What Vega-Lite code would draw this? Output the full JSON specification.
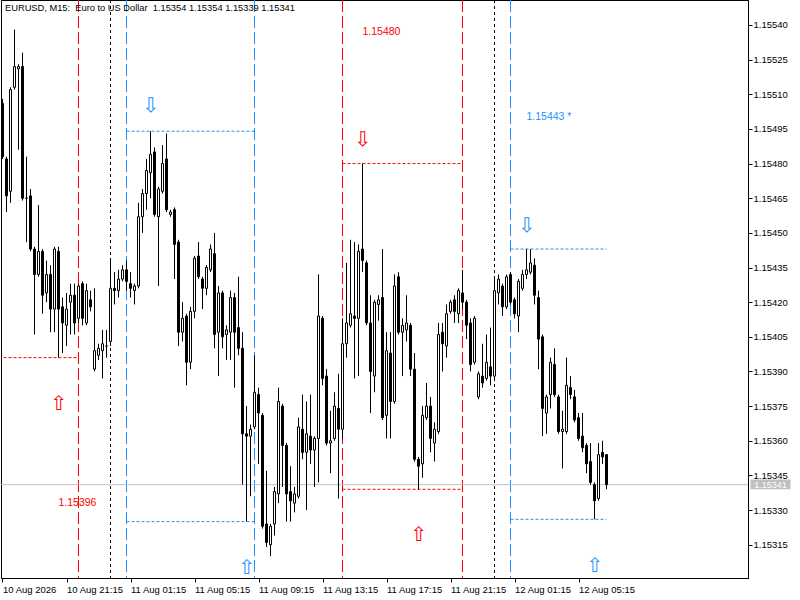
{
  "$schema": "https://vega.github.io/schema/vega-lite/v6.json",
  "width": 747,
  "height": 578,
  "autosize": {"type": "none"},
  "padding": {"left": 1, "top": 0, "right": 52, "bottom": 22},
  "background": "#ffffff",
  "resolve": {"axis": {"x": "independent", "y": "independent"}},
  "config": {
    "view": {"stroke": "#000000", "strokeWidth": 1},
    "font": "Liberation Sans",
    "scale": {"continuousPadding": 0},
    "axis": {"labelFont": "Liberation Sans", "labelColor": "#000000", "tickColor": "#000000", "domainColor": "#000000", "grid": false}
  },
  "layer": [
    {
      "data": {"values": [
        {"t": "2026-08-10T22:00Z", "zone": "A"},
        {"t": "2026-08-11T14:30Z", "zone": "A"},
        {"t": "2026-08-11T22:00Z", "zone": "A"},
        {"t": "2026-08-11T01:00Z", "zone": "B"},
        {"t": "2026-08-11T09:00Z", "zone": "B"},
        {"t": "2026-08-12T01:00Z", "zone": "B"}
      ]},
      "mark": {"type": "rule", "strokeDash": [12, 4], "strokeWidth": 1},
      "encoding": {
        "x": {"field": "t", "type": "temporal", "axis": null, "scale": {"type": "utc", "nice": false, "padding": 0, "domain": [{"year": 2026, "month": 8, "date": 10, "hours": 17, "minutes": 9, "seconds": 22, "milliseconds": 500, "utc": true}, {"year": 2026, "month": 8, "date": 12, "hours": 15, "minutes": 50, "seconds": 37, "milliseconds": 500, "utc": true}]}},
        "color": {"field": "zone", "type": "nominal", "scale": {"domain": ["A", "B"], "range": ["#ff0000", "#1e90ff"]}, "legend": null}
      }
    },
    {
      "data": {"values": [
        {"t": "2026-08-11T00:00Z"},
        {"t": "2026-08-12T00:00Z"}
      ]},
      "mark": {"type": "rule", "strokeDash": [3, 3], "strokeWidth": 1, "color": "#000000"},
      "encoding": {
        "x": {"field": "t", "type": "temporal", "axis": null, "scale": {"type": "utc", "nice": false, "padding": 0, "domain": [{"year": 2026, "month": 8, "date": 10, "hours": 17, "minutes": 9, "seconds": 22, "milliseconds": 500, "utc": true}, {"year": 2026, "month": 8, "date": 12, "hours": 15, "minutes": 50, "seconds": 37, "milliseconds": 500, "utc": true}]}}
      }
    },
    {
      "data": {"values": [
        {"t1": "2026-08-10T17:00Z", "t2": "2026-08-10T22:00Z", "p": 1.15396, "zone": "A"},
        {"t1": "2026-08-11T01:00Z", "t2": "2026-08-11T09:00Z", "p": 1.15494, "zone": "B"},
        {"t1": "2026-08-11T01:00Z", "t2": "2026-08-11T09:00Z", "p": 1.15325, "zone": "B"},
        {"t1": "2026-08-11T14:30Z", "t2": "2026-08-11T22:00Z", "p": 1.15480, "zone": "A"},
        {"t1": "2026-08-11T14:30Z", "t2": "2026-08-11T22:00Z", "p": 1.15339, "zone": "A"},
        {"t1": "2026-08-12T01:00Z", "t2": "2026-08-12T07:00Z", "p": 1.15443, "zone": "B"},
        {"t1": "2026-08-12T01:00Z", "t2": "2026-08-12T07:00Z", "p": 1.15326, "zone": "B"}
      ]},
      "mark": {"type": "rule", "strokeDash": [3, 2], "strokeWidth": 1, "clip": true},
      "encoding": {
        "x": {"field": "t1", "type": "temporal", "axis": null, "scale": {"type": "utc", "nice": false, "padding": 0, "domain": [{"year": 2026, "month": 8, "date": 10, "hours": 17, "minutes": 9, "seconds": 22, "milliseconds": 500, "utc": true}, {"year": 2026, "month": 8, "date": 12, "hours": 15, "minutes": 50, "seconds": 37, "milliseconds": 500, "utc": true}]}},
        "x2": {"field": "t2"},
        "y": {"field": "p", "type": "quantitative", "axis": null, "scale": {"domain": [1.153006, 1.155508], "zero": false, "nice": false}},
        "color": {"field": "zone", "type": "nominal", "scale": {"domain": ["A", "B"], "range": ["#ff0000", "#1e90ff"]}, "legend": null}
      }
    },
    {
      "data": {"values": [{"p": 1.15341}]},
      "mark": {"type": "rule", "color": "#c0c0c0", "strokeWidth": 1},
      "encoding": {
        "y": {"field": "p", "type": "quantitative", "axis": null, "scale": {"domain": [1.153006, 1.155508], "zero": false, "nice": false}}
      }
    },
    {
      "data": {"values": [
        {"t":"2026-08-10T17:15Z","o":1.15506,"h":1.15508,"l":1.15482,"c":1.15483},
        {"t":"2026-08-10T17:30Z","o":1.15482,"h":1.15483,"l":1.15459,"c":1.15466},
        {"t":"2026-08-10T17:45Z","o":1.15468,"h":1.15513,"l":1.15463,"c":1.15512},
        {"t":"2026-08-10T18:00Z","o":1.15513,"h":1.15538,"l":1.15512,"c":1.15522},
        {"t":"2026-08-10T18:15Z","o":1.15521,"h":1.15523,"l":1.15486,"c":1.15522},
        {"t":"2026-08-10T18:30Z","o":1.15522,"h":1.15528,"l":1.15464,"c":1.15465},
        {"t":"2026-08-10T18:45Z","o":1.15465,"h":1.15483,"l":1.15446,"c":1.15465},
        {"t":"2026-08-10T19:00Z","o":1.15466,"h":1.15469,"l":1.15442,"c":1.15443},
        {"t":"2026-08-10T19:15Z","o":1.15443,"h":1.15444,"l":1.15406,"c":1.15432},
        {"t":"2026-08-10T19:30Z","o":1.15432,"h":1.15462,"l":1.15431,"c":1.15442},
        {"t":"2026-08-10T19:45Z","o":1.15442,"h":1.15443,"l":1.15415,"c":1.15423},
        {"t":"2026-08-10T20:00Z","o":1.15424,"h":1.15438,"l":1.15420,"c":1.15432},
        {"t":"2026-08-10T20:15Z","o":1.15432,"h":1.15436,"l":1.15407,"c":1.15417},
        {"t":"2026-08-10T20:30Z","o":1.15417,"h":1.15444,"l":1.15407,"c":1.15443},
        {"t":"2026-08-10T20:45Z","o":1.15442,"h":1.15444,"l":1.15396,"c":1.15417},
        {"t":"2026-08-10T21:00Z","o":1.15418,"h":1.15422,"l":1.15398,"c":1.15411},
        {"t":"2026-08-10T21:15Z","o":1.15410,"h":1.15424,"l":1.15401,"c":1.15417},
        {"t":"2026-08-10T21:30Z","o":1.15420,"h":1.15428,"l":1.15406,"c":1.15423},
        {"t":"2026-08-10T21:45Z","o":1.15423,"h":1.15428,"l":1.15406,"c":1.15411},
        {"t":"2026-08-10T22:00Z","o":1.15413,"h":1.15428,"l":1.15411,"c":1.15427},
        {"t":"2026-08-10T22:15Z","o":1.15428,"h":1.15429,"l":1.15410,"c":1.15413},
        {"t":"2026-08-10T22:30Z","o":1.15411,"h":1.15428,"l":1.15410,"c":1.15425},
        {"t":"2026-08-10T22:45Z","o":1.15421,"h":1.15425,"l":1.15416,"c":1.15418},
        {"t":"2026-08-10T23:00Z","o":1.15391,"h":1.15426,"l":1.15390,"c":1.15399},
        {"t":"2026-08-10T23:15Z","o":1.15397,"h":1.15402,"l":1.15395,"c":1.15400},
        {"t":"2026-08-10T23:30Z","o":1.15399,"h":1.15408,"l":1.15387,"c":1.15402},
        {"t":"2026-08-10T23:45Z","o":1.15401,"h":1.15408,"l":1.15396,"c":1.15401},
        {"t":"2026-08-11T00:00Z","o":1.15403,"h":1.15439,"l":1.15401,"c":1.15426},
        {"t":"2026-08-11T00:15Z","o":1.15426,"h":1.15433,"l":1.15419,"c":1.15425},
        {"t":"2026-08-11T00:30Z","o":1.15425,"h":1.15434,"l":1.15422,"c":1.15430},
        {"t":"2026-08-11T00:45Z","o":1.15430,"h":1.15436,"l":1.15429,"c":1.15434},
        {"t":"2026-08-11T01:00Z","o":1.15434,"h":1.15438,"l":1.15425,"c":1.15429},
        {"t":"2026-08-11T01:15Z","o":1.15428,"h":1.15433,"l":1.15422,"c":1.15426},
        {"t":"2026-08-11T01:30Z","o":1.15425,"h":1.15428,"l":1.15419,"c":1.15427},
        {"t":"2026-08-11T01:45Z","o":1.15427,"h":1.15463,"l":1.15426,"c":1.15457},
        {"t":"2026-08-11T02:00Z","o":1.15457,"h":1.15469,"l":1.15450,"c":1.15467},
        {"t":"2026-08-11T02:15Z","o":1.15467,"h":1.15482,"l":1.15460,"c":1.15477},
        {"t":"2026-08-11T02:30Z","o":1.15476,"h":1.15494,"l":1.15465,"c":1.15484},
        {"t":"2026-08-11T02:45Z","o":1.15485,"h":1.15487,"l":1.15457,"c":1.15458},
        {"t":"2026-08-11T03:00Z","o":1.15457,"h":1.15470,"l":1.15427,"c":1.15469},
        {"t":"2026-08-11T03:15Z","o":1.15468,"h":1.15488,"l":1.15467,"c":1.15480},
        {"t":"2026-08-11T03:30Z","o":1.15482,"h":1.15493,"l":1.15459,"c":1.15460},
        {"t":"2026-08-11T03:45Z","o":1.15458,"h":1.15460,"l":1.15457,"c":1.15459},
        {"t":"2026-08-11T04:00Z","o":1.15460,"h":1.15461,"l":1.15430,"c":1.15445},
        {"t":"2026-08-11T04:15Z","o":1.15446,"h":1.15447,"l":1.15401,"c":1.15407},
        {"t":"2026-08-11T04:30Z","o":1.15407,"h":1.15420,"l":1.15403,"c":1.15413},
        {"t":"2026-08-11T04:45Z","o":1.15414,"h":1.15415,"l":1.15384,"c":1.15394},
        {"t":"2026-08-11T05:00Z","o":1.15394,"h":1.15418,"l":1.15391,"c":1.15416},
        {"t":"2026-08-11T05:15Z","o":1.15416,"h":1.15440,"l":1.15413,"c":1.15439},
        {"t":"2026-08-11T05:30Z","o":1.15440,"h":1.15446,"l":1.15430,"c":1.15431},
        {"t":"2026-08-11T05:45Z","o":1.15430,"h":1.15431,"l":1.15417,"c":1.15426},
        {"t":"2026-08-11T06:00Z","o":1.15426,"h":1.15436,"l":1.15423,"c":1.15435},
        {"t":"2026-08-11T06:15Z","o":1.15434,"h":1.15445,"l":1.15433,"c":1.15443},
        {"t":"2026-08-11T06:30Z","o":1.15441,"h":1.15450,"l":1.15400,"c":1.15406},
        {"t":"2026-08-11T06:45Z","o":1.15407,"h":1.15427,"l":1.15388,"c":1.15424},
        {"t":"2026-08-11T07:00Z","o":1.15424,"h":1.15425,"l":1.15400,"c":1.15405},
        {"t":"2026-08-11T07:15Z","o":1.15406,"h":1.15410,"l":1.15395,"c":1.15408},
        {"t":"2026-08-11T07:30Z","o":1.15407,"h":1.15425,"l":1.15395,"c":1.15422},
        {"t":"2026-08-11T07:45Z","o":1.15422,"h":1.15424,"l":1.15383,"c":1.15407},
        {"t":"2026-08-11T08:00Z","o":1.15409,"h":1.15431,"l":1.15397,"c":1.15400},
        {"t":"2026-08-11T08:15Z","o":1.15400,"h":1.15407,"l":1.15341,"c":1.15363},
        {"t":"2026-08-11T08:30Z","o":1.15363,"h":1.15375,"l":1.15325,"c":1.15362},
        {"t":"2026-08-11T08:45Z","o":1.15362,"h":1.15367,"l":1.15336,"c":1.15365},
        {"t":"2026-08-11T09:00Z","o":1.15366,"h":1.15397,"l":1.15365,"c":1.15381},
        {"t":"2026-08-11T09:15Z","o":1.15380,"h":1.15383,"l":1.15350,"c":1.15372},
        {"t":"2026-08-11T09:30Z","o":1.15371,"h":1.15372,"l":1.15322,"c":1.15323},
        {"t":"2026-08-11T09:45Z","o":1.15324,"h":1.15347,"l":1.15314,"c":1.15316},
        {"t":"2026-08-11T10:00Z","o":1.15315,"h":1.15324,"l":1.15310,"c":1.15323},
        {"t":"2026-08-11T10:15Z","o":1.15324,"h":1.15340,"l":1.15319,"c":1.15338},
        {"t":"2026-08-11T10:30Z","o":1.15337,"h":1.15383,"l":1.15333,"c":1.15377},
        {"t":"2026-08-11T10:45Z","o":1.15375,"h":1.15376,"l":1.15340,"c":1.15358},
        {"t":"2026-08-11T11:00Z","o":1.15358,"h":1.15359,"l":1.15325,"c":1.15337},
        {"t":"2026-08-11T11:15Z","o":1.15338,"h":1.15349,"l":1.15325,"c":1.15334},
        {"t":"2026-08-11T11:30Z","o":1.15333,"h":1.15340,"l":1.15329,"c":1.15337},
        {"t":"2026-08-11T11:45Z","o":1.15336,"h":1.15370,"l":1.15335,"c":1.15366},
        {"t":"2026-08-11T12:00Z","o":1.15365,"h":1.15380,"l":1.15352,"c":1.15355},
        {"t":"2026-08-11T12:15Z","o":1.15355,"h":1.15377,"l":1.15330,"c":1.15363},
        {"t":"2026-08-11T12:30Z","o":1.15362,"h":1.15380,"l":1.15350,"c":1.15356},
        {"t":"2026-08-11T12:45Z","o":1.15356,"h":1.15362,"l":1.15340,"c":1.15361},
        {"t":"2026-08-11T13:00Z","o":1.15361,"h":1.15432,"l":1.15342,"c":1.15414},
        {"t":"2026-08-11T13:15Z","o":1.15413,"h":1.15414,"l":1.15384,"c":1.15387},
        {"t":"2026-08-11T13:30Z","o":1.15388,"h":1.15391,"l":1.15358,"c":1.15359},
        {"t":"2026-08-11T13:45Z","o":1.15359,"h":1.15373,"l":1.15346,"c":1.15360},
        {"t":"2026-08-11T14:00Z","o":1.15361,"h":1.15381,"l":1.15360,"c":1.15375},
        {"t":"2026-08-11T14:15Z","o":1.15374,"h":1.15389,"l":1.15335,"c":1.15365},
        {"t":"2026-08-11T14:30Z","o":1.15365,"h":1.15413,"l":1.15361,"c":1.15402},
        {"t":"2026-08-11T14:45Z","o":1.15402,"h":1.15437,"l":1.15396,"c":1.15411},
        {"t":"2026-08-11T15:00Z","o":1.15410,"h":1.15447,"l":1.15409,"c":1.15415},
        {"t":"2026-08-11T15:15Z","o":1.15414,"h":1.15446,"l":1.15387,"c":1.15413},
        {"t":"2026-08-11T15:30Z","o":1.15413,"h":1.15445,"l":1.15388,"c":1.15442},
        {"t":"2026-08-11T15:45Z","o":1.15443,"h":1.15480,"l":1.15433,"c":1.15438},
        {"t":"2026-08-11T16:00Z","o":1.15437,"h":1.15438,"l":1.15410,"c":1.15411},
        {"t":"2026-08-11T16:15Z","o":1.15411,"h":1.15423,"l":1.15372,"c":1.15390},
        {"t":"2026-08-11T16:30Z","o":1.15388,"h":1.15421,"l":1.15381,"c":1.15420},
        {"t":"2026-08-11T16:45Z","o":1.15419,"h":1.15423,"l":1.15412,"c":1.15421},
        {"t":"2026-08-11T17:00Z","o":1.15422,"h":1.15443,"l":1.15369,"c":1.15370},
        {"t":"2026-08-11T17:15Z","o":1.15371,"h":1.15407,"l":1.15361,"c":1.15399},
        {"t":"2026-08-11T17:30Z","o":1.15398,"h":1.15407,"l":1.15361,"c":1.15377},
        {"t":"2026-08-11T17:45Z","o":1.15377,"h":1.15432,"l":1.15376,"c":1.15427},
        {"t":"2026-08-11T18:00Z","o":1.15431,"h":1.15433,"l":1.15406,"c":1.15407},
        {"t":"2026-08-11T18:15Z","o":1.15407,"h":1.15413,"l":1.15388,"c":1.15410},
        {"t":"2026-08-11T18:30Z","o":1.15408,"h":1.15423,"l":1.15403,"c":1.15411},
        {"t":"2026-08-11T18:45Z","o":1.15410,"h":1.15411,"l":1.15388,"c":1.15391},
        {"t":"2026-08-11T19:00Z","o":1.15391,"h":1.15398,"l":1.15351,"c":1.15352},
        {"t":"2026-08-11T19:15Z","o":1.15352,"h":1.15353,"l":1.15339,"c":1.15349},
        {"t":"2026-08-11T19:30Z","o":1.15350,"h":1.15375,"l":1.15344,"c":1.15371},
        {"t":"2026-08-11T19:45Z","o":1.15370,"h":1.15385,"l":1.15369,"c":1.15375},
        {"t":"2026-08-11T20:00Z","o":1.15375,"h":1.15379,"l":1.15355,"c":1.15361},
        {"t":"2026-08-11T20:15Z","o":1.15359,"h":1.15368,"l":1.15351,"c":1.15365},
        {"t":"2026-08-11T20:30Z","o":1.15364,"h":1.15411,"l":1.15363,"c":1.15406},
        {"t":"2026-08-11T20:45Z","o":1.15407,"h":1.15411,"l":1.15390,"c":1.15402},
        {"t":"2026-08-11T21:00Z","o":1.15401,"h":1.15419,"l":1.15396,"c":1.15415},
        {"t":"2026-08-11T21:15Z","o":1.15416,"h":1.15421,"l":1.15415,"c":1.15420},
        {"t":"2026-08-11T21:30Z","o":1.15421,"h":1.15423,"l":1.15411,"c":1.15416},
        {"t":"2026-08-11T21:45Z","o":1.15415,"h":1.15426,"l":1.15411,"c":1.15425},
        {"t":"2026-08-11T22:00Z","o":1.15424,"h":1.15434,"l":1.15417,"c":1.15420},
        {"t":"2026-08-11T22:15Z","o":1.15420,"h":1.15421,"l":1.15404,"c":1.15410},
        {"t":"2026-08-11T22:30Z","o":1.15411,"h":1.15413,"l":1.15390,"c":1.15393},
        {"t":"2026-08-11T22:45Z","o":1.15394,"h":1.15414,"l":1.15393,"c":1.15413},
        {"t":"2026-08-11T23:00Z","o":1.15379,"h":1.15390,"l":1.15378,"c":1.15389},
        {"t":"2026-08-11T23:15Z","o":1.15388,"h":1.15402,"l":1.15383,"c":1.15385},
        {"t":"2026-08-11T23:30Z","o":1.15387,"h":1.15406,"l":1.15386,"c":1.15394},
        {"t":"2026-08-11T23:45Z","o":1.15392,"h":1.15409,"l":1.15384,"c":1.15388},
        {"t":"2026-08-12T00:00Z","o":1.15388,"h":1.15430,"l":1.15387,"c":1.15425},
        {"t":"2026-08-12T00:15Z","o":1.15424,"h":1.15432,"l":1.15419,"c":1.15430},
        {"t":"2026-08-12T00:30Z","o":1.15427,"h":1.15428,"l":1.15414,"c":1.15418},
        {"t":"2026-08-12T00:45Z","o":1.15418,"h":1.15432,"l":1.15417,"c":1.15431},
        {"t":"2026-08-12T01:00Z","o":1.15432,"h":1.15433,"l":1.15419,"c":1.15420},
        {"t":"2026-08-12T01:15Z","o":1.15421,"h":1.15422,"l":1.15413,"c":1.15415},
        {"t":"2026-08-12T01:30Z","o":1.15414,"h":1.15430,"l":1.15407,"c":1.15429},
        {"t":"2026-08-12T01:45Z","o":1.15426,"h":1.15434,"l":1.15425,"c":1.15432},
        {"t":"2026-08-12T02:00Z","o":1.15432,"h":1.15443,"l":1.15430,"c":1.15434},
        {"t":"2026-08-12T02:15Z","o":1.15433,"h":1.15443,"l":1.15432,"c":1.15437},
        {"t":"2026-08-12T02:30Z","o":1.15436,"h":1.15439,"l":1.15419,"c":1.15423},
        {"t":"2026-08-12T02:45Z","o":1.15422,"h":1.15425,"l":1.15391,"c":1.15404},
        {"t":"2026-08-12T03:00Z","o":1.15405,"h":1.15406,"l":1.15362,"c":1.15374},
        {"t":"2026-08-12T03:15Z","o":1.15372,"h":1.15380,"l":1.15363,"c":1.15379},
        {"t":"2026-08-12T03:30Z","o":1.15380,"h":1.15396,"l":1.15374,"c":1.15394},
        {"t":"2026-08-12T03:45Z","o":1.15393,"h":1.15400,"l":1.15379,"c":1.15380},
        {"t":"2026-08-12T04:00Z","o":1.15379,"h":1.15380,"l":1.15363,"c":1.15364},
        {"t":"2026-08-12T04:15Z","o":1.15364,"h":1.15373,"l":1.15348,"c":1.15365},
        {"t":"2026-08-12T04:30Z","o":1.15364,"h":1.15396,"l":1.15363,"c":1.15384},
        {"t":"2026-08-12T04:45Z","o":1.15383,"h":1.15388,"l":1.15378,"c":1.15380},
        {"t":"2026-08-12T05:00Z","o":1.15379,"h":1.15382,"l":1.15368,"c":1.15369},
        {"t":"2026-08-12T05:15Z","o":1.15370,"h":1.15372,"l":1.15360,"c":1.15361},
        {"t":"2026-08-12T05:30Z","o":1.15362,"h":1.15372,"l":1.15355,"c":1.15357},
        {"t":"2026-08-12T05:45Z","o":1.15358,"h":1.15359,"l":1.15346,"c":1.15350},
        {"t":"2026-08-12T06:00Z","o":1.15351,"h":1.15359,"l":1.15341,"c":1.15342},
        {"t":"2026-08-12T06:15Z","o":1.15341,"h":1.15342,"l":1.15326,"c":1.15334},
        {"t":"2026-08-12T06:30Z","o":1.15335,"h":1.15359,"l":1.15334,"c":1.15354},
        {"t":"2026-08-12T06:45Z","o":1.15355,"h":1.15360,"l":1.15350,"c":1.15353},
        {"t":"2026-08-12T07:00Z","o":1.15354,"h":1.15354,"l":1.15339,"c":1.15341}
      ]},
      "resolve": {"axis": {"x": "independent", "y": "independent"}},
      "layer": [
        {
          "mark": {"type": "rule", "color": "#000000", "strokeWidth": 1},
          "encoding": {
            "x": {"field": "t", "type": "temporal",
              "scale": {"type": "utc", "nice": false, "padding": 0, "domain": [{"year": 2026, "month": 8, "date": 10, "hours": 17, "minutes": 9, "seconds": 22, "milliseconds": 500, "utc": true}, {"year": 2026, "month": 8, "date": 12, "hours": 15, "minutes": 50, "seconds": 37, "milliseconds": 500, "utc": true}]},
              "axis": {
                "orient": "bottom",
                "title": null,
                "values": [
                  {"year": 2026, "month": 8, "date": 10, "hours": 17, "minutes": 15, "utc": true},
                  {"year": 2026, "month": 8, "date": 10, "hours": 21, "minutes": 15, "utc": true},
                  {"year": 2026, "month": 8, "date": 11, "hours": 1, "minutes": 15, "utc": true},
                  {"year": 2026, "month": 8, "date": 11, "hours": 5, "minutes": 15, "utc": true},
                  {"year": 2026, "month": 8, "date": 11, "hours": 9, "minutes": 15, "utc": true},
                  {"year": 2026, "month": 8, "date": 11, "hours": 13, "minutes": 15, "utc": true},
                  {"year": 2026, "month": 8, "date": 11, "hours": 17, "minutes": 15, "utc": true},
                  {"year": 2026, "month": 8, "date": 11, "hours": 21, "minutes": 15, "utc": true},
                  {"year": 2026, "month": 8, "date": 12, "hours": 1, "minutes": 15, "utc": true},
                  {"year": 2026, "month": 8, "date": 12, "hours": 5, "minutes": 15, "utc": true}
                ],
                "labelExpr": "(utcFormat(datum.value, '%d %H:%M') == '10 17:15') ? '10 Aug 2026' : utcFormat(datum.value, '%d %b %H:%M')",
                "labelAlign": "left",
                "labelPadding": 2,
                "tickSize": 4,
                "labelFontSize": 9.5,
                "labelOverlap": false,
                "labelFlush": false
              }
            },
            "y": {"field": "l", "type": "quantitative",
              "scale": {"domain": [1.153006, 1.155508], "zero": false, "nice": false},
              "axis": {
                "orient": "right",
                "title": null,
                "values": [1.15315, 1.1533, 1.15345, 1.1536, 1.15375, 1.1539, 1.15405, 1.1542, 1.15435, 1.1545, 1.15465, 1.1548, 1.15495, 1.1551, 1.15525, 1.1554],
                "format": ".5f",
                "tickSize": 4,
                "labelPadding": 1,
                "labelFontSize": 9.5,
                "labelOverlap": false
              }
            },
            "y2": {"field": "h"}
          }
        },
        {
          "mark": {"type": "bar", "width": 2, "stroke": "#000000", "strokeWidth": 1},
          "encoding": {
            "x": {"field": "t", "type": "temporal", "axis": null, "scale": {"type": "utc", "nice": false, "padding": 0, "domain": [{"year": 2026, "month": 8, "date": 10, "hours": 17, "minutes": 9, "seconds": 22, "milliseconds": 500, "utc": true}, {"year": 2026, "month": 8, "date": 12, "hours": 15, "minutes": 50, "seconds": 37, "milliseconds": 500, "utc": true}]}},
            "y": {"field": "o", "type": "quantitative", "axis": null, "scale": {"domain": [1.153006, 1.155508], "zero": false, "nice": false}},
            "y2": {"field": "c"},
            "fill": {"condition": {"test": "datum.c > datum.o", "value": "#ffffff"}, "value": "#000000"}
          }
        }
      ]
    },
    {
      "data": {"values": [
        {"t": "2026-08-10T20:45Z", "p": 1.15376, "dir": "up", "zone": "A"},
        {"t": "2026-08-11T02:30Z", "p": 1.15505, "dir": "down", "zone": "B"},
        {"t": "2026-08-11T08:30Z", "p": 1.15305, "dir": "up", "zone": "B"},
        {"t": "2026-08-11T15:45Z", "p": 1.15490, "dir": "down", "zone": "A"},
        {"t": "2026-08-11T19:15Z", "p": 1.15319, "dir": "up", "zone": "A"},
        {"t": "2026-08-12T02:00Z", "p": 1.15453, "dir": "down", "zone": "B"},
        {"t": "2026-08-12T06:15Z", "p": 1.15306, "dir": "up", "zone": "B"}
      ]},
      "mark": {"type": "text", "font": "DejaVu Sans", "fontSize": 20, "align": "center", "baseline": "middle"},
      "encoding": {
        "x": {"field": "t", "type": "temporal", "axis": null, "scale": {"type": "utc", "nice": false, "padding": 0, "domain": [{"year": 2026, "month": 8, "date": 10, "hours": 17, "minutes": 9, "seconds": 22, "milliseconds": 500, "utc": true}, {"year": 2026, "month": 8, "date": 12, "hours": 15, "minutes": 50, "seconds": 37, "milliseconds": 500, "utc": true}]}},
        "y": {"field": "p", "type": "quantitative", "axis": null, "scale": {"domain": [1.153006, 1.155508], "zero": false, "nice": false}},
        "text": {"condition": {"test": "datum.dir == 'up'", "value": "⇧"}, "value": "⇩"},
        "color": {"field": "zone", "type": "nominal", "scale": {"domain": ["A", "B"], "range": ["#ff0000", "#1e90ff"]}, "legend": null}
      }
    },
    {
      "data": {"values": [
        {"t": "2026-08-10T20:45Z", "p": 1.15333, "label": "1.15396", "zone": "A"},
        {"t": "2026-08-11T15:45Z", "p": 1.15537, "label": "1.15480", "zone": "A"},
        {"t": "2026-08-12T02:00Z", "p": 1.15500, "label": "1.15443 *", "zone": "B"}
      ]},
      "mark": {"type": "text", "font": "Liberation Sans", "fontSize": 10.5, "align": "left", "baseline": "middle"},
      "encoding": {
        "x": {"field": "t", "type": "temporal", "axis": null, "scale": {"type": "utc", "nice": false, "padding": 0, "domain": [{"year": 2026, "month": 8, "date": 10, "hours": 17, "minutes": 9, "seconds": 22, "milliseconds": 500, "utc": true}, {"year": 2026, "month": 8, "date": 12, "hours": 15, "minutes": 50, "seconds": 37, "milliseconds": 500, "utc": true}]}},
        "y": {"field": "p", "type": "quantitative", "axis": null, "scale": {"domain": [1.153006, 1.155508], "zero": false, "nice": false}},
        "text": {"field": "label"},
        "color": {"field": "zone", "type": "nominal", "scale": {"domain": ["A", "B"], "range": ["#ff0000", "#1e90ff"]}, "legend": null}
      }
    },
    {
      "data": {"values": [
        {"t": "2026-08-10T17:09:22.500Z", "p": 1.1555, "label": "EURUSD, M15:\u00a0 Euro to US Dollar\u00a0 1.15354 1.15354 1.15339 1.15341"}
      ]},
      "mark": {"type": "text", "font": "Liberation Sans", "fontSize": 9.3, "align": "left", "baseline": "top", "dx": 4, "dy": 2, "color": "#000000"},
      "encoding": {
        "x": {"field": "t", "type": "temporal", "axis": null, "scale": {"type": "utc", "nice": false, "padding": 0, "domain": [{"year": 2026, "month": 8, "date": 10, "hours": 17, "minutes": 9, "seconds": 22, "milliseconds": 500, "utc": true}, {"year": 2026, "month": 8, "date": 12, "hours": 15, "minutes": 50, "seconds": 37, "milliseconds": 500, "utc": true}]}},
        "y": {"field": "p", "type": "quantitative", "axis": null, "scale": {"domain": [1.153006, 1.155508], "zero": false, "nice": false}},
        "text": {"field": "label"}
      }
    },
    {
      "data": {"values": [
        {"t1": "2026-08-12T16:00Z", "t2": "2026-08-12T18:30Z", "p1": 1.15339, "p2": 1.153432}
      ]},
      "mark": {"type": "rect", "color": "#c0c0c0"},
      "encoding": {
        "x": {"field": "t1", "type": "temporal", "axis": null, "scale": {"type": "utc", "nice": false, "padding": 0, "domain": [{"year": 2026, "month": 8, "date": 10, "hours": 17, "minutes": 9, "seconds": 22, "milliseconds": 500, "utc": true}, {"year": 2026, "month": 8, "date": 12, "hours": 15, "minutes": 50, "seconds": 37, "milliseconds": 500, "utc": true}]}},
        "x2": {"field": "t2"},
        "y": {"field": "p1", "type": "quantitative", "axis": null, "scale": {"domain": [1.153006, 1.155508], "zero": false, "nice": false}},
        "y2": {"field": "p2"}
      }
    },
    {
      "data": {"values": [
        {"t": "2026-08-12T17:15Z", "p": 1.15341, "label": "1.15341"}
      ]},
      "mark": {"type": "text", "font": "Liberation Sans", "fontSize": 9, "align": "center", "baseline": "middle", "dy": 0.5, "color": "#ffffff"},
      "encoding": {
        "x": {"field": "t", "type": "temporal", "axis": null, "scale": {"type": "utc", "nice": false, "padding": 0, "domain": [{"year": 2026, "month": 8, "date": 10, "hours": 17, "minutes": 9, "seconds": 22, "milliseconds": 500, "utc": true}, {"year": 2026, "month": 8, "date": 12, "hours": 15, "minutes": 50, "seconds": 37, "milliseconds": 500, "utc": true}]}},
        "y": {"field": "p", "type": "quantitative", "axis": null, "scale": {"domain": [1.153006, 1.155508], "zero": false, "nice": false}},
        "text": {"field": "label"}
      }
    }
  ]
}
